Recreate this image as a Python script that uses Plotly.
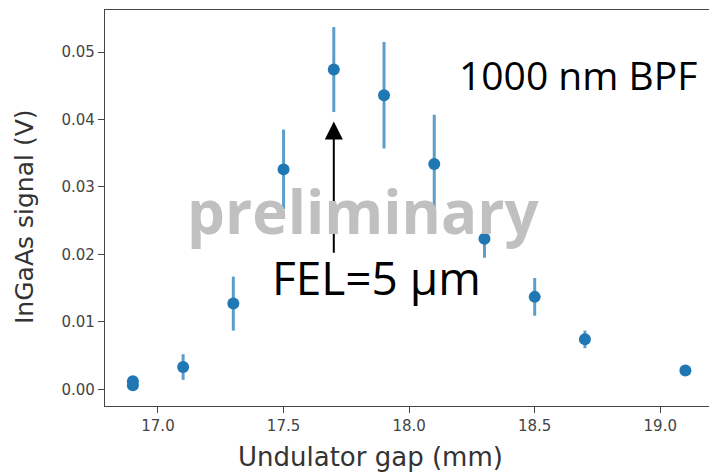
import plotly.graph_objects as go

# Data
gap_mm = [16.9, 16.9, 17.1, 17.3, 17.5, 17.7, 17.9, 18.1, 18.3, 18.5, 18.7, 19.1]
signal_v = [0.0012, 0.0006, 0.0033, 0.0127, 0.0326, 0.0474, 0.0436, 0.0334, 0.0223, 0.0137, 0.0074, 0.0028]
signal_err = [0.0002, 0.0002, 0.0019, 0.0040, 0.0059, 0.0063, 0.0079, 0.0073, 0.0028, 0.0028, 0.0013, 0.0003]

x_ticks = [17.0, 17.5, 18.0, 18.5, 19.0]
x_tick_text = ["17.0", "17.5", "18.0", "18.5", "19.0"]
y_ticks = [0.00, 0.01, 0.02, 0.03, 0.04, 0.05]
y_tick_text = ["0.00", "0.01", "0.02", "0.03", "0.04", "0.05"]

x_range = [16.789, 19.194]
y_range = [-0.00248, 0.05623]

# annotation anchors
arrow_x = 17.7
arrow_head_y = 0.0397
arrow_tail_y = 0.0200

W, H = 709, 473
L, T, R, B = 105, 10, 0, 67
pw, ph = W - L - R, H - T - B

def px(x):
    return (x - L) / pw

def py(y):
    return (H - B - y) / ph

blue = "#1f77b4"

fig = go.Figure()
fig.add_trace(go.Scatter(
    x=gap_mm, y=signal_v, mode="markers",
    marker=dict(color=blue, size=12),
    error_y=dict(type="data", array=signal_err, visible=True,
                 color="rgba(31,119,180,0.72)", thickness=3, width=0),
    showlegend=False,
))

axis_common = dict(
    showgrid=False, zeroline=False, showline=True, linecolor="#444", linewidth=1.4,
    ticks="outside", ticklen=6, tickwidth=1.2, tickcolor="#444",
    tickfont=dict(family="DejaVu Sans", size=15, color="#444"),
)

fig.update_xaxes(range=x_range, tickvals=x_ticks, ticktext=x_tick_text,
                 mirror=True, **axis_common)
fig.update_yaxes(range=y_range, tickvals=y_ticks, ticktext=y_tick_text,
                 mirror=False, **axis_common)

annotations = [
    dict(x=arrow_x, y=arrow_head_y, ax=arrow_x, ay=arrow_tail_y,
         xref="x", yref="y", axref="x", ayref="y", text="",
         showarrow=True, arrowhead=2, arrowsize=1.8, arrowwidth=2,
         arrowcolor="black", standoff=0, startstandoff=0),
    dict(x=px(363), y=py(211), xref="paper", yref="paper",
         text="<b>preliminary</b>", showarrow=False,
         font=dict(family="Open Sans", size=60, color="#c0c0c0"),
         xanchor="center", yanchor="middle"),
    dict(x=px(457), y=py(74), xref="paper", yref="paper",
         text="1000 nm BPF", showarrow=False,
         font=dict(family="Open Sans", size=39, color="black"),
         xanchor="left", yanchor="middle"),
    dict(x=px(270), y=py(277), xref="paper", yref="paper",
         text="FEL=5 µm", showarrow=False,
         font=dict(family="Open Sans", size=46, color="black"),
         xanchor="left", yanchor="middle"),
    dict(x=px(370), y=py(457), xref="paper", yref="paper",
         text="Undulator gap (mm)", showarrow=False,
         font=dict(family="DejaVu Sans", size=26, color="#333"),
         xanchor="center", yanchor="middle"),
    dict(x=px(24), y=py(217), xref="paper", yref="paper",
         text="InGaAs signal (V)", showarrow=False, textangle=-90,
         font=dict(family="DejaVu Sans", size=25, color="#333"),
         xanchor="center", yanchor="middle"),
]

fig.update_layout(
    width=W, height=H,
    margin=dict(l=L, r=R, t=T, b=B, pad=0),
    plot_bgcolor="white", paper_bgcolor="white",
    annotations=annotations,
)

fig.write_html("out.html")
